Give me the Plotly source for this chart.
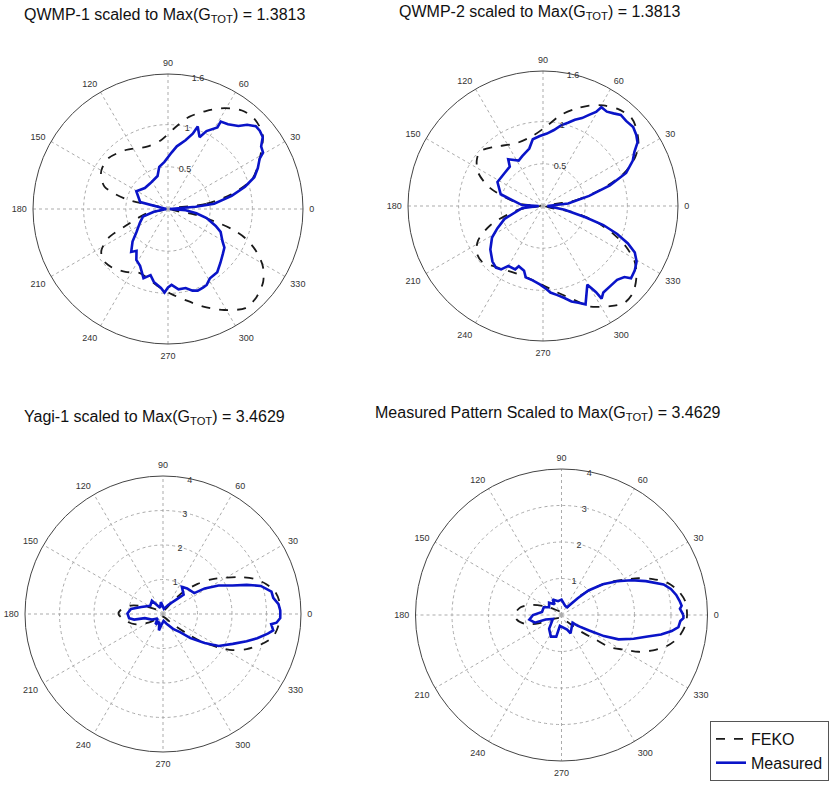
import plotly.graph_objects as go

W, H = 833, 787

# ---------------- data (theta in degrees, r in linear gain units) ----------------
angle_ticks = [0, 30, 60, 90, 120, 150, 180, 210, 240, 270, 300, 330]
angle_labels = [str(a) for a in angle_ticks]

titles = [
    "QWMP-1 scaled to Max(G<sub>TOT</sub>) = 1.3813",
    "QWMP-2 scaled to Max(G<sub>TOT</sub>) = 1.3813",
    "Yagi-1 scaled to Max(G<sub>TOT</sub>) = 3.4629",
    "Measured Pattern Scaled to Max(G<sub>TOT</sub>) = 3.4629",
]

qwmp_rticks = [0.5, 1, 1.6]
qwmp_rlabels = ["0.5", "1", "1.6"]
yagi_rticks = [1, 2, 3, 4]
yagi_rlabels = ["1", "2", "3", "4"]

# QWMP-1
qwmp1_feko_theta = [0, 7.8, 13, 19.6, 28.8, 38.3, 46.5, 53.1, 60.7, 68.5, 77.1, 85, 95.8, 108.6,
                    125.6, 139.9, 147.8, 152, 160.5, 166.7, 180, 191.6, 201.7, 206, 211.9, 218,
                    226.2, 236, 246.3, 262.2, 272.4, 280.9, 289.9, 299.1, 308, 315.1, 322.6, 329,
                    334.7, 339.3, 342.6, 345.2, 348, 360]
qwmp1_feko_r = [0.03, 0.46, 0.77, 1.06, 1.24, 1.43, 1.48, 1.46, 1.37, 1.25, 1.12, 0.97, 0.82, 0.78,
                0.86, 0.93, 0.92, 0.90, 0.80, 0.51, 0.03, 0.26, 0.54, 0.79, 0.93, 0.98,
                0.96, 0.90, 0.83, 0.92, 1.01, 1.10, 1.23, 1.37, 1.49, 1.48, 1.42, 1.31,
                1.15, 0.98, 0.79, 0.56, 0.34, 0.03]
qwmp1_meas_theta = [0, 4.5, 6.6, 11.6, 16.1, 20.2, 24.5, 28.8, 30.7, 33.9, 37.2, 40.5, 43.3, 46.8,
                    49.7, 54.7, 58.9, 58.8, 63.7, 66.3, 70.2, 71.8, 75.7, 82, 86.4, 94.3, 101.7,
                    107.6, 124.6, 137.8, 150.8, 166, 180, 191, 196.8, 205.9, 216, 222.5, 229.4,
                    233, 238.1, 243.8, 250.5, 255.2, 259, 264.9, 267.6, 270, 272.7, 277.5, 282.6,
                    286.7, 290, 294, 297, 301.2, 307.9, 314.3, 320.7, 325.6, 329.4, 336.5, 340.5,
                    346.8, 351.3, 355.9, 360]
qwmp1_meas_r = [0.02, 0.33, 0.55, 0.77, 0.95, 1.09, 1.17, 1.24, 1.31, 1.33, 1.41, 1.43, 1.43, 1.37,
                1.29, 1.23, 1.21, 1.13, 1.03, 0.93, 1.04, 0.94, 0.84, 0.75, 0.67, 0.56, 0.51,
                0.41, 0.37, 0.37, 0.43, 0.34, 0.02, 0.17, 0.31, 0.37, 0.46, 0.57, 0.67,
                0.62, 0.71, 0.75, 0.87, 0.81, 0.88, 0.94, 0.99, 0.93, 0.90, 0.96, 0.96,
                1.01, 1.03, 1.02, 1.01, 0.96, 0.95, 0.89, 0.84, 0.81, 0.75, 0.68, 0.60,
                0.47, 0.34, 0.21, 0.02]

# QWMP-2
qwmp2_feko_theta = [0, 9.7, 16.4, 22.1, 27.7, 32.4, 39, 44.9, 52.7, 59, 65.3, 71.8, 78.9, 87.2,
                    98.3, 114.1, 129.6, 139.2, 145.8, 153, 161.3, 174, 180, 188.6, 199.9, 207.9,
                    215, 222.3, 231, 253.3, 267.7, 279.5, 288.8, 294.7, 303.9, 310, 316.2, 322.8,
                    328.8, 334, 338.3, 343.4, 348.1, 360]
qwmp2_feko_r = [0.03, 0.39, 0.74, 1.04, 1.23, 1.34, 1.43, 1.48, 1.45, 1.39, 1.31, 1.21, 1.10, 0.95,
                0.84, 0.81, 0.91, 0.99, 0.95, 0.86, 0.66, 0.29, 0.03, 0.29, 0.66, 0.87,
                0.96, 0.98, 0.92, 0.86, 0.92, 1.04, 1.18, 1.31, 1.43, 1.50, 1.48, 1.39,
                1.27, 1.09, 0.90, 0.66, 0.39, 0.03]
qwmp2_meas_theta = [0, 5.6, 12.4, 17.2, 21.7, 26.7, 30.7, 33.9, 37.3, 41.2, 45.7, 49.5, 52.7, 55.9,
                    59.4, 60.6, 63.2, 66.1, 69.7, 73.3, 77.4, 81.8, 86.9, 92.6, 98.7, 103.4, 112.6,
                    118.2, 126.7, 130.2, 139.3, 152.2, 164.5, 177.4, 180, 185.9, 198.5, 205.9,
                    211.7, 219.6, 227.7, 232.7, 236.5, 240, 246.3, 248.1, 253.7, 256.4, 262.1,
                    267.7, 272.7, 274.9, 279.2, 283.1, 286.6, 290.1, 293.4, 299.4, 300.8, 301.6,
                    302.3, 304.9, 310, 315.1, 318.9, 320.6, 324.8, 329.3, 333.1, 336.2, 339.3,
                    342.5, 345.1, 350.4, 360]
qwmp2_meas_r = [0.05, 0.30, 0.56, 0.83, 1.06, 1.19, 1.26, 1.35, 1.39, 1.42, 1.41, 1.42, 1.38, 1.35,
                1.36, 1.28, 1.21, 1.14, 1.09, 1.03, 0.98, 0.91, 0.86, 0.83, 0.80, 0.70, 0.64,
                0.61, 0.69, 0.61, 0.60, 0.61, 0.52, 0.25, 0.05, 0.25, 0.48, 0.60,
                0.71, 0.81, 0.89, 0.92, 0.90, 0.82, 0.82, 0.77, 0.80, 0.87, 0.89,
                0.93, 0.99, 1.03, 1.07, 1.12, 1.18, 1.22, 1.27, 1.07, 1.15, 1.20,
                1.30, 1.25, 1.24, 1.24, 1.28, 1.35, 1.33, 1.29, 1.22, 1.10, 0.94,
                0.75, 0.52, 0.26, 0.05]

# Yagi-1
yagi1_feko_theta = [0, 6.4, 11.3, 16.3, 21.3, 25.7, 30.1, 35.6, 41, 47.5, 52.5, 70, 110, 154.9,
                    165.4, 175, 180, 188.1, 199.7, 210.8, 225, 270, 314.3, 320.8, 324.3, 328.9,
                    332.6, 337.2, 342.7, 348.4, 354.2, 360]
yagi1_feko_r = [3.39, 3.39, 3.31, 3.11, 2.82, 2.47, 2.10, 1.73, 1.33, 0.88, 0.48, 0.12, 0.10, 0.47,
                0.96, 1.24, 1.29, 1.15, 0.88, 0.49, 0.17, 0.08, 0.42, 0.90, 1.36, 1.88,
                2.27, 2.63, 2.97, 3.26, 3.36, 3.39]
yagi1_meas_theta = [0, 1.8, 4.9, 8.3, 11.7, 16, 19.2, 22.3, 27.2, 31.5, 33.8, 46.7, 55.2, 43.2,
                    47.2, 60, 80, 100, 115, 130, 147, 162, 171, 179, 187, 191, 193, 207, 220,
                    234, 245, 256, 263, 275, 290, 304, 313.4, 318.7, 325.2, 330.1, 336.8,
                    341.9, 345.6, 349.4, 351.5, 354.6, 355.6, 358, 360]
yagi1_meas_r = [3.40, 3.40, 3.36, 3.23, 3.21, 2.95, 2.57, 2.18, 1.81, 1.42, 1.09, 1.02, 0.96, 0.82,
                0.58, 0.30, 0.15, 0.35, 0.20, 0.50, 0.44, 0.66, 0.94, 1.03, 0.99, 0.85, 0.54,
                0.36, 0.20, 0.37, 0.25, 0.49, 0.30, 0.20, 0.30, 0.52, 0.72, 1.06, 1.47,
                1.86, 2.20, 2.55, 2.82, 3.09, 3.23, 3.15, 3.30, 3.40, 3.40]

# Measured pattern
meas_feko_theta = [0, 6.4, 11.9, 17, 21.5, 25.5, 29.4, 34.2, 39, 45.2, 49.7, 70, 110, 148.2, 161.4,
                   169.4, 178.1, 185.9, 194.5, 199.8, 204.5, 230, 270, 314.7, 319.6, 324.3, 326.4,
                   331.1, 334.5, 338.9, 343.8, 348.8, 355, 360]
meas_feko_r = [3.44, 3.41, 3.26, 3.03, 2.69, 2.34, 1.97, 1.61, 1.21, 0.77, 0.39, 0.10, 0.10, 0.40,
               0.87, 1.14, 1.27, 1.23, 1.01, 0.67, 0.26, 0.10, 0.08, 0.36, 0.71, 1.15, 1.60,
               1.97, 2.34, 2.69, 3.02, 3.25, 3.40, 3.44]
meas_meas_theta = [0, 3, 4.4, 6.7, 9.9, 13.4, 16.7, 21.9, 26.4, 31.3, 36.6, 42.3, 46.1, 54, 67.8,
                   90, 103.8, 119.7, 122.9, 135.1, 148.2, 156.6, 171, 180, 188.2, 196, 196.1,
                   204.4, 228.3, 243.9, 256.4, 261.5, 291, 296.3, 324.9, 326.5, 330.4, 333.6,
                   336.9, 341.8, 346, 348.9, 351.7, 354.1, 357.1, 358.5, 360]
meas_meas_r = [3.34, 3.25, 3.30, 3.26, 3.19, 3.08, 2.92, 2.49, 2.14, 1.78, 1.41, 1.00, 0.64, 0.26, 0.27,
               0.42, 0.39, 0.49, 0.35, 0.48, 0.40, 0.53, 0.54, 0.78, 0.89, 0.76, 0.45,
               0.26, 0.51, 0.66, 0.61, 0.30, 0.43, 0.56, 0.37, 0.54, 0.85, 1.30,
               1.70, 2.08, 2.43, 2.78, 3.05, 3.22, 3.26, 3.34, 3.34]

series = [
    (qwmp1_feko_theta, qwmp1_feko_r, qwmp1_meas_theta, qwmp1_meas_r, 1.6, qwmp_rticks, qwmp_rlabels),
    (qwmp2_feko_theta, qwmp2_feko_r, qwmp2_meas_theta, qwmp2_meas_r, 1.6, qwmp_rticks, qwmp_rlabels),
    (yagi1_feko_theta, yagi1_feko_r, yagi1_meas_theta, yagi1_meas_r, 4, yagi_rticks, yagi_rlabels),
    (meas_feko_theta, meas_feko_r, meas_meas_theta, meas_meas_r, 4, yagi_rticks, yagi_rlabels),
]

# ---------------- layout geometry (pixels) ----------------
centers = [(168, 209), (543, 206), (163, 614), (561.5, 615)]
radii = [135, 135, 138, 146]
title_pos = [(22, 4), (397, 1), (22, 406), (373, 402)]

FONT = "Liberation Sans"
fig = go.Figure()
layout = dict(
    width=W, height=H, margin=dict(l=0, r=0, t=0, b=0),
    paper_bgcolor="white", plot_bgcolor="white",
    font=dict(family=FONT, color="#222"),
    showlegend=True,
    legend=dict(x=829 / W, y=1 - 781 / H, xanchor="right", yanchor="bottom",
                bordercolor="#555", borderwidth=1, bgcolor="white",
                font=dict(size=16, family=FONT, color="#111"),
                tracegroupgap=0, itemwidth=30),
    annotations=[],
)

for i, (ft, fr, mt, mr, rmax, rt, rl) in enumerate(series):
    pid = "polar" if i == 0 else f"polar{i + 1}"
    cx, cy = centers[i]
    R = radii[i]
    layout[pid] = dict(
        domain=dict(x=[(cx - R) / W, (cx + R) / W], y=[1 - (cy + R) / H, 1 - (cy - R) / H]),
        bgcolor="white",
        angularaxis=dict(
            rotation=0, direction="counterclockwise",
            tickmode="array", tickvals=angle_ticks, ticktext=angle_labels,
            showline=True, linecolor="#444", linewidth=1,
            showgrid=True, gridcolor="#ababab", griddash="dot", gridwidth=1,
            ticks="outside", ticklen=4, tickcolor="rgba(0,0,0,0)",
            tickfont=dict(size=9, color="#333", family=FONT),
        ),
        radialaxis=dict(
            range=[0, rmax], tickmode="array", tickvals=rt, ticktext=rl,
            angle=82, side="clockwise", tickangle=82,
            showline=False, ticks="",
            showgrid=True, gridcolor="#ababab", griddash="dot", gridwidth=1,
            tickfont=dict(size=9, color="#333", family=FONT),
        ),
    )
    fig.add_trace(go.Scatterpolar(
        theta=ft, r=fr, mode="lines", name="FEKO", subplot=pid,
        line=dict(color="#1a1a1a", width=1.8, dash="dash", shape="spline", smoothing=0.8),
        showlegend=(i == 0), legendrank=1,
    ))
    fig.add_trace(go.Scatterpolar(
        theta=mt, r=mr, mode="lines", name="Measured", subplot=pid,
        line=dict(color="#0a14c8", width=2.6),
        showlegend=(i == 0), legendrank=2,
    ))
    tx, ty = title_pos[i]
    layout["annotations"].append(dict(
        text=titles[i], xref="paper", yref="paper", x=tx / W, y=1 - ty / H,
        xanchor="left", yanchor="top", showarrow=False,
        font=dict(size=16, family=FONT, color="#111"),
    ))

fig.update_layout(**layout)
fig.write_html("out.html", config={"displayModeBar": False},
               post_script="document.body.style.margin='0px';document.body.style.overflow='hidden';")
